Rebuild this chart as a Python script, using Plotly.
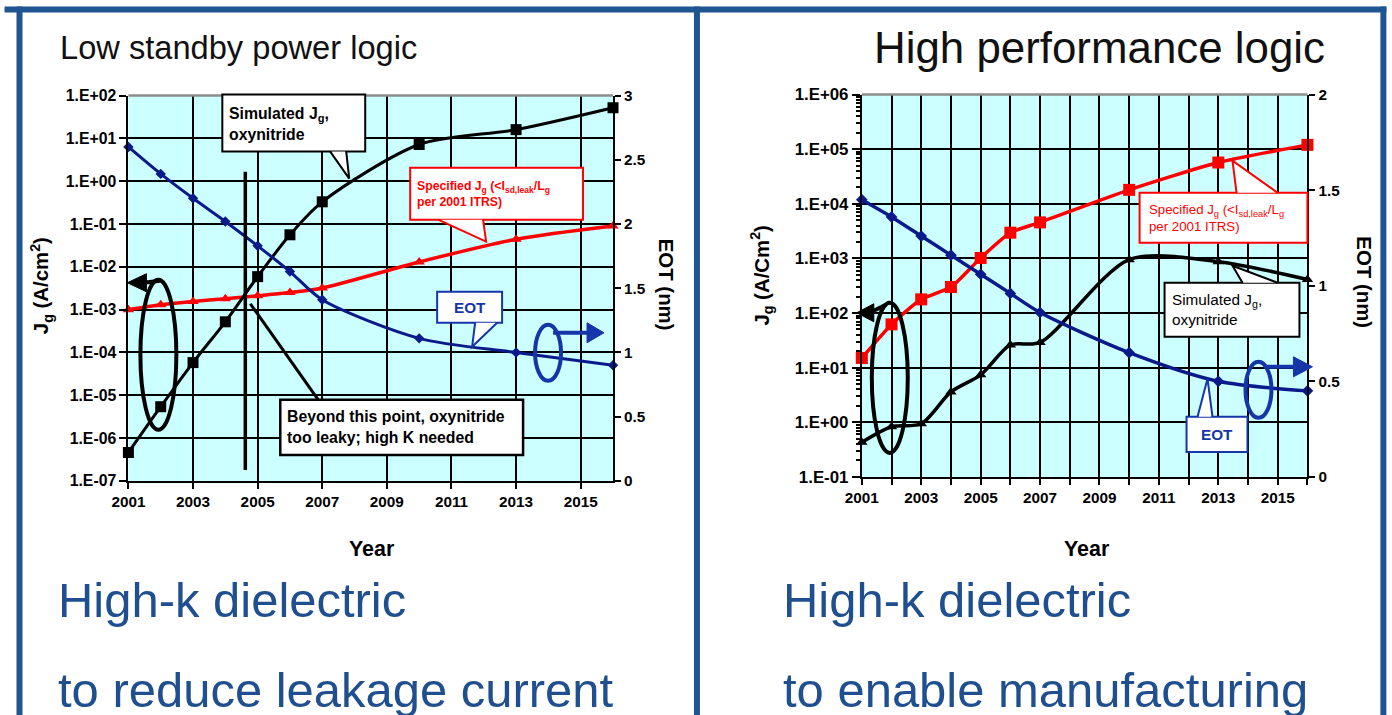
import plotly.graph_objects as go

# ---------------- data ----------------
years = [2001, 2002, 2003, 2004, 2005, 2006, 2007, 2010, 2013, 2016]

# Low standby power logic
lsp_sim_jg = [4.6e-7, 5.4e-6, 5.8e-5, 5.2e-4, 5.9e-3, 0.056, 0.33, 7.2, 16, 52]
lsp_spec_jg = [1.0e-3, 1.3e-3, 1.55e-3, 1.8e-3, 2.1e-3, 2.5e-3, 3.2e-3, 1.3e-2, 4.4e-2, 9.0e-2]
lsp_eot = [2.60, 2.39, 2.20, 2.02, 1.83, 1.63, 1.41, 1.11, 1.00, 0.90]

# High performance logic
hp_sim_jg = [0.43, 0.83, 0.94, 3.6, 7.4, 26, 29, 950, 870, 410]
hp_spec_jg = [15, 62, 178, 300, 1020, 2960, 4570, 18000, 57000, 120000]
hp_eot = [1.45, 1.36, 1.26, 1.16, 1.06, 0.96, 0.86, 0.65, 0.50, 0.45]

lsp_year_ticks = [2001, 2003, 2005, 2007, 2009, 2011, 2013, 2015]
hp_year_ticks = [2001, 2003, 2005, 2007, 2009, 2011, 2013, 2015]
lsp_jg_tickvals = [1e-7, 1e-6, 1e-5, 1e-4, 1e-3, 1e-2, 1e-1, 1e0, 1e1, 1e2]
lsp_jg_ticktext = ["1.E-07", "1.E-06", "1.E-05", "1.E-04", "1.E-03", "1.E-02",
                   "1.E-01", "1.E+00", "1.E+01", "1.E+02"]
hp_jg_tickvals = [1e-1, 1e0, 1e1, 1e2, 1e3, 1e4, 1e5, 1e6]
hp_jg_ticktext = ["1.E-01", "1.E+00", "1.E+01", "1.E+02", "1.E+03", "1.E+04",
                  "1.E+05", "1.E+06"]
hp_minor_vals = [m * 10 ** e for e in range(-1, 6) for m in range(2, 10)]

# ---------------- styling ----------------
FW, FH = 1392, 726
# observed mapping from figure pixels to the photographed picture
SX, OXP = 0.9886, 16.5
SY, OYP = 0.973, 9.5
FS = 1.02  # font compensation for the slight shrink
FONT = "Liberation Sans, Arial, sans-serif"
FRAME = "#1f5591"
TXTBLUE = "#1f4f8f"
BLACK = "#000000"
RED = "#ff0000"
NAVY = "#0b1a8a"
BOXBLUE = "#1536a8"


def X(p):
    return ((p - OXP) / SX) / FW


def Y(p):
    return 1 - ((p - OYP) / SY) / FH


fig = go.Figure()

# ---- left panel traces ----
fig.add_trace(go.Scatter(x=years, y=lsp_eot, xaxis="x", yaxis="y2", mode="lines+markers",
                         line=dict(color=NAVY, width=3, shape="spline", smoothing=0.8),
                         marker=dict(symbol="diamond", size=8, color=NAVY),
                         cliponaxis=False, showlegend=False))
fig.add_trace(go.Scatter(x=years, y=lsp_spec_jg, xaxis="x", yaxis="y", mode="lines+markers",
                         line=dict(color=RED, width=3.5, shape="spline", smoothing=0.8),
                         marker=dict(symbol="triangle-up", size=10, color=RED),
                         cliponaxis=False, showlegend=False))
fig.add_trace(go.Scatter(x=years, y=lsp_sim_jg, xaxis="x", yaxis="y", mode="lines+markers",
                         line=dict(color=BLACK, width=3, shape="spline", smoothing=0.8),
                         marker=dict(symbol="square", size=11, color=BLACK),
                         cliponaxis=False, showlegend=False))

# ---- right panel traces ----
fig.add_trace(go.Scatter(x=years, y=hp_eot, xaxis="x2", yaxis="y4", mode="lines+markers",
                         line=dict(color=NAVY, width=3.5, shape="spline", smoothing=0.8),
                         marker=dict(symbol="diamond", size=9, color=NAVY),
                         cliponaxis=False, showlegend=False))
fig.add_trace(go.Scatter(x=years, y=hp_spec_jg, xaxis="x2", yaxis="y3", mode="lines+markers",
                         line=dict(color=RED, width=3.5, shape="spline", smoothing=0.6),
                         marker=dict(symbol="square", size=12, color=RED),
                         cliponaxis=False, showlegend=False))
fig.add_trace(go.Scatter(x=years, y=hp_sim_jg, xaxis="x2", yaxis="y3", mode="lines+markers",
                         line=dict(color=BLACK, width=3.5, shape="spline", smoothing=0.8),
                         marker=dict(symbol="triangle-up", size=10, color=BLACK),
                         cliponaxis=False, showlegend=False))

tickfont = dict(family=FONT, size=15 * FS, color="black", weight="bold")
ytickfont_l = dict(family=FONT, size=15.5 * FS, color="black", weight="bold")
ytickfont_r = dict(family=FONT, size=16.5 * FS, color="black", weight="bold")
axis_common = dict(showline=True, linecolor="black", linewidth=2, ticks="outside",
                   tickcolor="black", tickwidth=2, zeroline=False)

fig.update_layout(
    width=FW, height=FH, margin=dict(l=0, r=0, t=0, b=0),
    paper_bgcolor="white", plot_bgcolor="#ccffff",
    xaxis=dict(domain=[X(128), X(613)], range=[2001, 2016], anchor="y",
               tickmode="array", tickvals=lsp_year_ticks, ticklen=6,
               showgrid=True, gridcolor="black", gridwidth=1.5,
               tickfont=tickfont, **axis_common),
    yaxis=dict(domain=[Y(481), Y(96)], type="log", range=[-7, 2], anchor="x",
               tickmode="array", tickvals=lsp_jg_tickvals, ticktext=lsp_jg_ticktext,
               ticklen=7, showgrid=True, gridcolor="black", gridwidth=1.5,
               tickfont=ytickfont_l, **axis_common),
    yaxis2=dict(overlaying="y", side="right", anchor="x", range=[0, 3], dtick=0.5,
                ticklen=6, showgrid=False, tickfont=tickfont, **axis_common),
    xaxis2=dict(domain=[X(862), X(1308)], range=[2001, 2016], anchor="y3",
                tickmode="array", tickvals=hp_year_ticks, ticklen=6,
                showgrid=True, gridcolor="black", gridwidth=1.5,
                minor=dict(dtick=1, tick0=2001, showgrid=True, gridcolor="black",
                           gridwidth=1.5, ticks="outside", ticklen=6, tickcolor="black"),
                tickfont=tickfont, **axis_common),
    yaxis3=dict(domain=[Y(477), Y(95)], type="log", range=[-1, 6], anchor="x2",
                tickmode="array", tickvals=hp_jg_tickvals, ticktext=hp_jg_ticktext,
                ticklen=8, showgrid=True, gridcolor="black", gridwidth=1.5,
                minor=dict(tickmode="array", tickvals=hp_minor_vals, ticks="outside",
                           ticklen=4, tickcolor="black", showgrid=False),
                tickfont=ytickfont_r, **axis_common),
    yaxis4=dict(overlaying="y3", side="right", anchor="x2", range=[0, 2], dtick=0.5,
                ticklen=6, showgrid=False, tickfont=tickfont, **axis_common),
)

shapes = []
annotations = []


def pline(pts, color, width, closed=False, fill=None):
    d = "M " + " L ".join(f"{X(a):.5f},{Y(b):.5f}" for a, b in pts)
    if closed:
        d += " Z"
    s = dict(type="path", xref="paper", yref="paper", path=d, layer="above",
             line=dict(color=color, width=width))
    if fill:
        s["fillcolor"] = fill
    return s


def rect(x0, y0, x1, y1, color, width=2):
    return dict(type="rect", xref="paper", yref="paper", x0=X(x0), x1=X(x1),
                y0=Y(y1), y1=Y(y0), line=dict(color=color, width=width),
                fillcolor="white", layer="above")


def ellipse(cx, cy, rx, ry, color, width=4):
    return dict(type="circle", xref="paper", yref="paper", x0=X(cx - rx), x1=X(cx + rx),
                y0=Y(cy + ry), y1=Y(cy - ry), line=dict(color=color, width=width),
                layer="above")


def callout(box, base, tip, color):
    (bx0, by0, bx1, by1) = box
    shapes.append(rect(bx0, by0, bx1, by1, color))
    (a, b), (c, d) = base
    shapes.append(pline([(a + 1, b), (c - 1, d), tip], "white", 0, closed=True, fill="white"))
    shapes.append(pline([(a, b), tip, (c, d)], color, 2))


def text(x, y, s, size, color, weight="normal", xanchor="left", angle=0, align="left"):
    annotations.append(dict(x=X(x), y=Y(y), xref="paper", yref="paper", text=s,
                            showarrow=False, xanchor=xanchor, yanchor="middle",
                            textangle=angle, align=align, borderpad=0,
                            font=dict(family=FONT, size=size * FS, color=color,
                                      weight=weight)))


# top grey borders of plot areas
shapes.append(pline([(128, 96), (613, 96)], "#8c8c8c", 2.5))
shapes.append(pline([(862, 95), (1308, 95)], "#8c8c8c", 2.5))

# ---------- left panel decorations ----------
callout((222, 95, 365, 152), ((330, 152), (346, 152)), (349, 179), BLACK)
text(228, 124, "Simulated J<sub>g</sub>,<br>oxynitride", 15.5, BLACK, "bold")

callout((410, 168, 583, 220), ((438, 220), (483, 220)), (486, 242), RED)
text(416, 194, "Specified J<sub>g</sub> (&lt;I<sub>sd,leak</sub>/L<sub>g</sub><br>per 2001 ITRS)",
     12, RED, "bold")

callout((437, 292, 502, 323), ((475, 323), (497, 323)), (472, 347), BOXBLUE)
text(469.5, 308, "EOT", 15, BOXBLUE, "bold", xanchor="center")

shapes.append(pline([(250, 304), (318, 400)], BLACK, 3))
shapes.append(rect(280, 400, 523, 455, BLACK, 2.5))
text(286, 427.5, "Beyond this point, oxynitride<br>too leaky; high K needed", 15.5, BLACK, "bold")

shapes.append(pline([(245, 172), (245, 470)], BLACK, 3.5))

shapes.append(ellipse(158, 355, 18, 75, BLACK))
shapes.append(pline([(143, 283), (160, 281)], BLACK, 4))
shapes.append(pline([(127, 283), (146, 274), (146, 292)], BLACK, 1, closed=True, fill=BLACK))

shapes.append(ellipse(548, 353, 13, 28, BOXBLUE))
shapes.append(pline([(553, 333), (590, 333)], BOXBLUE, 4))
shapes.append(pline([(587, 323), (604, 333), (587, 343)], BOXBLUE, 1, closed=True, fill=BOXBLUE))

# ---------- right panel decorations ----------
callout((1140, 193, 1308, 243), ((1237, 193), (1278, 193)), (1233, 161), RED)
text(1148, 218, "Specified J<sub>g</sub> (&lt;I<sub>sd,leak</sub>/L<sub>g</sub><br>per 2001 ITRS)",
     13, RED, "normal")

callout((1165, 283, 1300, 337), ((1243, 283), (1278, 283)), (1233, 266), BLACK)
text(1171, 310, "Simulated J<sub>g</sub>,<br>oxynitride", 15, BLACK, "normal")

callout((1187, 417, 1248, 452), ((1198, 417), (1213, 417)), (1208, 379), BOXBLUE)
text(1217.5, 434.5, "EOT", 15, BOXBLUE, "bold", xanchor="center")

shapes.append(ellipse(890, 378, 18, 75, BLACK))
shapes.append(pline([(872, 312), (886, 305)], BLACK, 4))
shapes.append(pline([(857, 313), (874, 304), (874, 322)], BLACK, 1, closed=True, fill=BLACK))

shapes.append(ellipse(1259, 390, 13, 28, BOXBLUE))
shapes.append(pline([(1264, 367), (1297, 367)], BOXBLUE, 4))
shapes.append(pline([(1294, 357), (1313, 367), (1294, 377)], BOXBLUE, 1, closed=True, fill=BOXBLUE))

# ---------- axis titles ----------
text(371, 549, "Year", 21, BLACK, "bold", xanchor="center")
text(1087, 549, "Year", 21, BLACK, "bold", xanchor="center")
text(41, 286, "J<sub>g</sub> (A/cm<sup>2</sup>)", 20, BLACK, "bold", xanchor="center", angle=-90)
text(762, 275, "J<sub>g</sub> (A/Cm<sup>2</sup>)", 20, BLACK, "bold", xanchor="center", angle=-90)
text(666, 285, "EOT (nm)", 20, BLACK, "bold", xanchor="center", angle=90)
text(1365, 283, "EOT (nm)", 20, BLACK, "bold", xanchor="center", angle=90)

# ---------- titles and captions ----------
text(238, 48, "Low standby power logic", 32, "#111111", "normal", xanchor="center")
text(1100, 48, "High performance logic", 43, "#111111", "normal", xanchor="center")
text(57, 600, "High-k dielectric", 48, TXTBLUE)
text(57, 690, "to reduce leakage current", 48, TXTBLUE)
text(782, 600, "High-k dielectric", 48, TXTBLUE)
text(782, 690, "to enable manufacturing", 48, TXTBLUE)

# ---------- blue frame ----------
shapes.append(pline([(4, 10), (1387, 10)], FRAME, 6))
shapes.append(pline([(19, 7), (19, 740)], FRAME, 6))
shapes.append(pline([(1384, 7), (1384, 740)], FRAME, 6))
shapes.append(pline([(697, 7), (697, 740)], FRAME, 6))

fig.update_layout(shapes=shapes, annotations=annotations)
fig.write_html("out.html")
